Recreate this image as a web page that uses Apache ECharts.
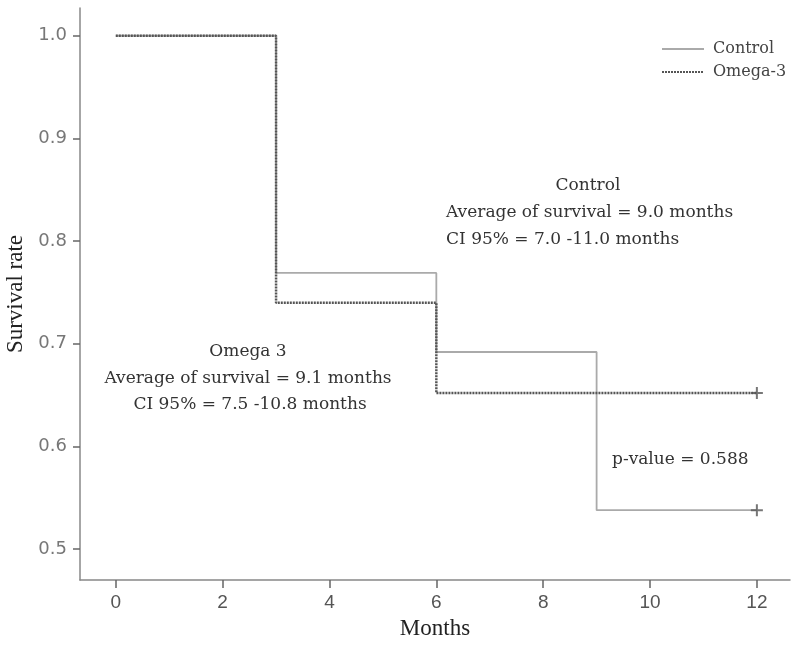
<!DOCTYPE html>
<html><head><meta charset="utf-8">
<script src="https://cdn.jsdelivr.net/npm/echarts@6/dist/echarts.min.js"></script>
<style>html,body{margin:0;padding:0;background:#fff}#c{width:800px;height:649px}</style>
</head><body><div id="c"></div>
<script>
const months = [0, 3, 6, 9, 12];
const controlSurv = [1.0, 0.769, 0.692, 0.538, 0.538];
const omegaMonths = [0, 3, 6, 12];
const omegaSurv = [1.0, 0.740, 0.652, 0.652];
const censorMonths = [12, 12];
const censorSurv = [0.538, 0.652];
const xTicks = [0, 2, 4, 6, 8, 10, 12];
const yTicks = [0.5, 0.6, 0.7, 0.8, 0.9, 1.0];

const serif = '"Liberation Serif", serif';
const slab = '"DejaVu Serif", serif';
const chart = echarts.init(document.getElementById('c'), null, {renderer: 'canvas'});
const plus = 'path://M5,0 L7,0 L7,5 L12,5 L12,7 L7,7 L7,12 L5,12 L5,7 L0,7 L0,5 L5,5 Z';
const annFont = '17px ' + slab;

chart.setOption({
  animation: false,
  backgroundColor: '#fff',
  grid: {left: 80, right: 10, top: 8, bottom: 69, containLabel: false, outerBoundsMode: 'none'},
  legend: {
    data: ['Control', 'Omega-3'],
    orient: 'vertical', left: 656, top: 36, itemWidth: 42, itemHeight: 10, itemGap: 7,
    itemStyle: {opacity: 0},
    textStyle: {fontFamily: slab, fontSize: 16, color: '#444', padding: [0, 0, 0, 4]}
  },
  xAxis: {
    type: 'value', min: -0.67, max: 12.62,
    name: 'Months', nameLocation: 'middle', nameGap: 37,
    nameTextStyle: {fontFamily: serif, fontSize: 23, color: '#222'},
    axisLine: {onZero: false, lineStyle: {color: '#888', width: 1.5}},
    axisTick: {customValues: xTicks, length: 8, lineStyle: {color: '#666', width: 1.5}},
    axisLabel: {customValues: xTicks, fontFamily: '"Liberation Sans Narrow", "Liberation Sans", sans-serif', fontSize: 19, color: '#555', margin: 13},
    splitLine: {show: false}
  },
  yAxis: {
    type: 'value', min: 0.47, max: 1.027,
    name: 'Survival rate', nameLocation: 'middle', nameGap: 50, nameRotate: 90,
    nameTextStyle: {fontFamily: serif, fontSize: 23, color: '#222'},
    axisLine: {show: true, onZero: false, lineStyle: {color: '#888', width: 1.5}},
    axisTick: {show: true, customValues: yTicks, length: 7, lineStyle: {color: '#666', width: 1.5}},
    axisLabel: {customValues: yTicks, fontFamily: '"DejaVu Sans", sans-serif', fontSize: 18, color: '#777', margin: 13,
      formatter: v => v.toFixed(1)},
    splitLine: {show: false}
  },
  series: [
    {name: 'Control', type: 'line', step: 'end', symbol: 'none',
      data: months.map((m, i) => [m, controlSurv[i]]),
      lineStyle: {color: '#aaa', width: 1.8}, itemStyle: {color: '#aaa'}, z: 2},
    {name: 'Omega-3', type: 'line', step: 'end', symbol: 'none',
      data: omegaMonths.map((m, i) => [m, omegaSurv[i]]),
      lineStyle: {color: '#555', width: 2.5, type: [2, 1]}, itemStyle: {color: '#555'}, z: 3},
    {name: 'censored', type: 'scatter', symbol: plus, symbolSize: 12,
      data: censorMonths.map((m, i) => [m, censorSurv[i]]),
      itemStyle: {color: '#555'}, z: 4}
  ],
  graphic: [
    {type: 'text', x: 588, y: 186, style: {text: 'Control', font: annFont, fill: '#333', align: 'center', verticalAlign: 'middle'}},
    {type: 'text', x: 446, y: 213, style: {text: 'Average of survival = 9.0 months', font: annFont, fill: '#333', align: 'left', verticalAlign: 'middle'}},
    {type: 'text', x: 446, y: 240, style: {text: 'CI 95% = 7.0 -11.0 months', font: annFont, fill: '#333', align: 'left', verticalAlign: 'middle'}},
    {type: 'text', x: 248, y: 352, style: {text: 'Omega 3', font: annFont, fill: '#333', align: 'center', verticalAlign: 'middle'}},
    {type: 'text', x: 248, y: 379, style: {text: 'Average of survival = 9.1 months', font: annFont, fill: '#333', align: 'center', verticalAlign: 'middle'}},
    {type: 'text', x: 250, y: 405, style: {text: 'CI 95% = 7.5 -10.8 months', font: annFont, fill: '#333', align: 'center', verticalAlign: 'middle'}},
    {type: 'text', x: 612, y: 460, style: {text: 'p-value = 0.588', font: annFont, fill: '#333', align: 'left', verticalAlign: 'middle'}}
  ]
});
</script></body></html>
